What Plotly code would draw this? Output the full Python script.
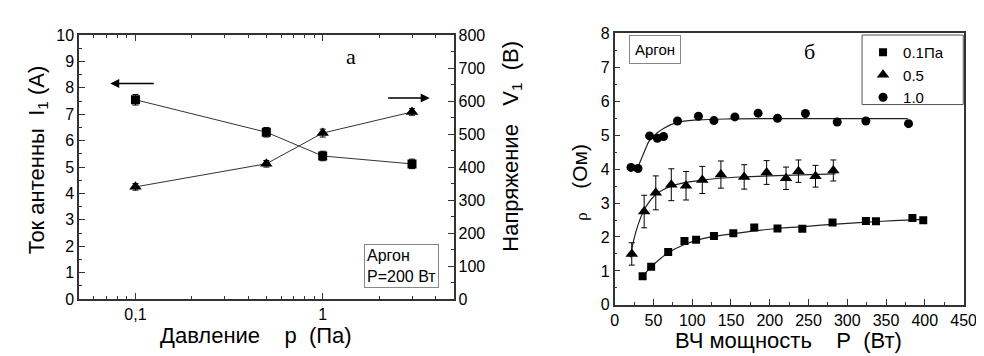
import plotly.graph_objects as go

# ---------- Panel a: pressure dependence ----------
pressure = [0.1, 0.5, 1.0, 3.0]
current_I1 = [7.55, 6.32, 5.42, 5.12]
current_err = [0.2, 0.18, 0.18, 0.18]
voltage_V1 = [340, 410, 503, 567]
voltage_err = [10, 10, 12, 10]

# ---------- Panel б: RF power dependence ----------
P_01 = [36, 47, 69, 90, 105, 128, 153, 180, 210, 242, 281, 324, 337, 384, 398]
rho_01 = [0.84, 1.12, 1.56, 1.88, 1.92, 2.03, 2.11, 2.28, 2.25, 2.24, 2.43, 2.47, 2.46, 2.56, 2.49]

P_05 = [22, 38, 53, 73, 92, 113, 137, 167, 196, 221, 237, 259, 282]
rho_05 = [1.5, 2.75, 3.3, 3.54, 3.51, 3.68, 3.84, 3.77, 3.9, 3.73, 3.94, 3.79, 3.96]
err_05 = [0.33, 0.48, 0.5, 0.47, 0.42, 0.4, 0.4, 0.36, 0.35, 0.33, 0.33, 0.32, 0.31]

P_10 = [21, 30, 45, 55, 63, 81, 108, 128, 155, 185, 210, 246, 287, 324, 379]
rho_10 = [4.05, 4.02, 4.98, 4.91, 4.96, 5.42, 5.56, 5.43, 5.54, 5.65, 5.5, 5.64, 5.39, 5.42, 5.34]

# fitted curves
fit_P_01 = [36, 47, 60, 70, 90, 110, 130, 155, 180, 210, 240, 280, 320, 360, 400]
fit_rho_01 = [0.84, 1.12, 1.38, 1.55, 1.78, 1.93, 2.02, 2.1, 2.18, 2.25, 2.3, 2.37, 2.43, 2.48, 2.52]
fit_P_05 = [20, 25, 30, 38, 45, 53, 63, 73, 90, 110, 135, 165, 200, 240, 285]
fit_rho_05 = [1.4, 1.95, 2.35, 2.8, 3.05, 3.25, 3.4, 3.5, 3.6, 3.67, 3.73, 3.77, 3.8, 3.83, 3.86]
fit_P_10 = [28, 38, 45, 55, 63, 81, 108, 150, 250, 378]
fit_rho_10 = [3.95, 4.5, 4.85, 5.07, 5.2, 5.38, 5.45, 5.48, 5.49, 5.49]

legend_names = ["0.1Па", "0.5", "1.0"]
x_ticktext_a = ["0,1", "1"]
x_tickvals_a = [0.1, 1]
x_minor_a = [0.06, 0.07, 0.08, 0.09, 0.2, 0.3, 0.4, 0.5, 0.6, 0.7, 0.8, 0.9, 2, 3, 4]

FONT = "Liberation Sans, Arial, sans-serif"
AX = "#333333"
NB = "\u00a0"

fig = go.Figure()

# panel a traces
fig.add_trace(go.Scatter(
    x=pressure, y=current_I1, mode="lines+markers",
    line=dict(color="#333", width=1),
    marker=dict(symbol="square", size=9, color="black"),
    error_y=dict(type="data", array=current_err, color="black", thickness=1, width=3),
    xaxis="x", yaxis="y", showlegend=False))
fig.add_trace(go.Scatter(
    x=pressure, y=voltage_V1, mode="lines+markers",
    line=dict(color="#333", width=1),
    marker=dict(symbol="triangle-up", size=11, color="black"),
    error_y=dict(type="data", array=voltage_err, color="black", thickness=1, width=3),
    xaxis="x", yaxis="y2", showlegend=False))

# panel б fits
for fx, fy in [(fit_P_01, fit_rho_01), (fit_P_05, fit_rho_05), (fit_P_10, fit_rho_10)]:
    fig.add_trace(go.Scatter(
        x=fx, y=fy, mode="lines", line=dict(color="#222", width=1.2, shape="spline", smoothing=1.0),
        xaxis="x3", yaxis="y3", showlegend=False, hoverinfo="skip"))

# panel б points
fig.add_trace(go.Scatter(
    x=P_01, y=rho_01, mode="markers", name=legend_names[0],
    marker=dict(symbol="square", size=8, color="black"),
    xaxis="x3", yaxis="y3"))
fig.add_trace(go.Scatter(
    x=P_05, y=rho_05, mode="markers", name=legend_names[1],
    marker=dict(symbol="triangle-up", size=11, color="black"),
    error_y=dict(type="data", array=err_05, color="black", thickness=1, width=3),
    xaxis="x3", yaxis="y3"))
fig.add_trace(go.Scatter(
    x=P_10, y=rho_10, mode="markers", name=legend_names[2],
    marker=dict(symbol="circle", size=9, color="black"),
    xaxis="x3", yaxis="y3"))

W, H = 984, 356


def px(x):
    return x / W


def py(y):
    return 1 - y / H


tickfont = dict(family=FONT, size=16, color="black")
minor_style = dict(ticks="inside", ticklen=3, tickcolor=AX, tickwidth=1.3)
common = dict(showline=True, linecolor=AX, linewidth=1.5, ticks="inside", ticklen=6,
              tickwidth=1.3, tickcolor=AX, showgrid=False, zeroline=False, tickfont=tickfont)

fig.update_layout(
    width=W, height=H,
    margin=dict(l=0, r=0, t=0, b=0),
    paper_bgcolor="white", plot_bgcolor="white",
    font=dict(family=FONT, color="black"),
    xaxis=dict(type="log", range=[-1.30103, 0.69897], domain=[px(68.3), px(449.3)],
               anchor="y", tickvals=x_tickvals_a, ticktext=x_ticktext_a, mirror="ticks",
               minor=dict(tickvals=x_minor_a, **minor_style),
               **common),
    yaxis=dict(range=[0, 10], dtick=1, domain=[py(297.3), py(20)], anchor="x",
               minor=dict(dtick=0.5, **minor_style), **common),
    yaxis2=dict(range=[0, 800], dtick=100, overlaying="y", side="right", anchor="x",
                minor=dict(dtick=50, **minor_style), **common),
    xaxis3=dict(range=[0, 450], dtick=50, domain=[px(613.3), px(968.3)], anchor="y3",
                mirror=True, minor=dict(dtick=25, **minor_style), **common),
    yaxis3=dict(range=[0, 8], dtick=1, domain=[py(303.3), py(18.3)], anchor="x3",
                mirror=True, minor=dict(dtick=0.5, **minor_style), **common),
    legend=dict(x=px(866), y=py(21), xanchor="left", yanchor="top",
                bgcolor="rgba(0,0,0,0)", borderwidth=0,
                font=dict(family=FONT, size=15, color="black"),
                itemwidth=30, tracegroupgap=0),
    shapes=[dict(type="rect", xref="paper", yref="paper",
                 x0=px(865), x1=px(968), y0=py(93), y1=py(20),
                 line=dict(color="#555", width=1))],
)

ann = []
# axis titles
ann.append(dict(x=px(26), y=py(151), text=f"Ток антенны{NB*2}I<sub>1</sub>{NB}(A)", textangle=-90,
                font=dict(size=22)))
ann.append(dict(x=px(509), y=py(137), text=f"Напряжение{NB*3}V<sub>1</sub>{NB*2}(B)", textangle=-90,
                font=dict(size=22)))
ann.append(dict(x=px(578), y=py(175),
                text=f"<span style='font-family:Liberation Serif;font-size:17px'>ρ</span>{NB*4}(Ом)",
                textangle=-90, font=dict(size=21)))
ann.append(dict(x=px(248), y=py(335), text=f"Давление{NB*4}р{NB*2}(Па)", font=dict(size=22)))
ann.append(dict(x=px(790), y=py(341), text=f"ВЧ мощность{NB*4}Р{NB*2}(Вт)", font=dict(size=22)))
# panel labels
ann.append(dict(x=px(345), y=py(43), text="а", font=dict(family="Liberation Serif", size=22)))
ann.append(dict(x=px(812), y=py(37), text="б", font=dict(family="Liberation Serif", size=22)))
# info boxes
ann.append(dict(x=px(396), y=py(263), text="Аргон<br>P=200 Вт", align="left",
                font=dict(size=16), bordercolor="#888", borderwidth=1, borderpad=2, bgcolor="white"))
ann.append(dict(x=px(654), y=py(35), text="Аргон", align="left",
                font=dict(size=15), bordercolor="#888", borderwidth=1, borderpad=5, bgcolor="white"))
for a in ann:
    a.setdefault("xref", "paper")
    a.setdefault("yref", "paper")
    a.setdefault("showarrow", False)
    a.setdefault("xanchor", "center")
    a.setdefault("yanchor", "middle")
    a["font"] = dict(family=a["font"].get("family", FONT), size=a["font"]["size"], color="black")

# arrows
ann.append(dict(xref="paper", yref="paper", x=px(100), y=py(71), ax=45, ay=0,
                showarrow=True, arrowhead=2, arrowsize=1.2, arrowwidth=1.5, arrowcolor="black", text=""))
ann.append(dict(xref="paper", yref="paper", x=px(425), y=py(86), ax=-43, ay=0,
                showarrow=True, arrowhead=2, arrowsize=1.2, arrowwidth=1.5, arrowcolor="black", text=""))

fig.update_layout(annotations=ann)

fig.write_html("out.html")
